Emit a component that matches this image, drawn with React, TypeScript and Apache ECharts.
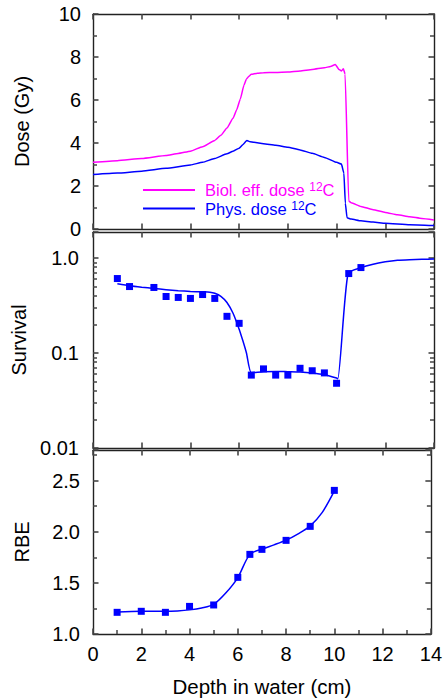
import React, { useEffect, useRef } from "react";
import * as echarts from "echarts";

// ---- Data ----
const BIO_NAME = "Biol. eff. dose 12C";
const PHYS_NAME = "Phys. dose 12C";

const BIO_X = [0, 1, 2, 3, 3.5, 4, 4.5, 5, 5.25, 5.5, 5.75, 5.9, 6.05, 6.2, 6.3, 6.4, 6.5, 6.75, 7, 7.5, 8, 8.5, 9, 9.5, 9.75, 9.95, 10.1, 10.2, 10.28, 10.35, 10.5, 10.6, 11, 11.5, 12, 12.5, 13, 13.5, 14];
const BIO_Y = [3.1, 3.18, 3.28, 3.42, 3.51, 3.62, 3.83, 4.12, 4.36, 4.7, 5.15, 5.55, 6.05, 6.7, 6.98, 7.1, 7.2, 7.25, 7.27, 7.28, 7.3, 7.35, 7.42, 7.5, 7.56, 7.65, 7.42, 7.35, 7.45, 7.2, 1.3, 1.22, 1.05, 0.9, 0.77, 0.66, 0.57, 0.49, 0.42];

const PHYS_X = [0, 1, 2, 3, 4, 4.5, 5, 5.5, 5.75, 6, 6.15, 6.32, 6.45, 6.6, 7, 7.5, 8, 8.5, 9, 9.5, 10, 10.2, 10.3, 10.36, 10.43, 10.6, 11, 11.5, 12, 13, 14];
const PHYS_Y = [2.53, 2.6, 2.69, 2.82, 2.98, 3.1, 3.28, 3.5, 3.62, 3.76, 3.92, 4.12, 4.06, 4.03, 3.97, 3.9, 3.8, 3.68, 3.52, 3.33, 3.1, 3.02, 2.6, 1.2, 0.52, 0.46, 0.38, 0.32, 0.27, 0.2, 0.16];

const SURV_PTS_X = [1, 1.5, 2.5, 3, 3.5, 4, 4.5, 5, 5.5, 6, 6.5, 7, 7.5, 8, 8.5, 9, 9.5, 10, 10.5, 11];
const SURV_PTS_Y = [0.607, 0.5, 0.489, 0.393, 0.384, 0.375, 0.412, 0.375, 0.243, 0.205, 0.0585, 0.068, 0.0585, 0.0585, 0.069, 0.065, 0.0617, 0.048, 0.685, 0.792];

const SURV_FIT_X = [1, 1.5, 2, 2.5, 3, 3.5, 4, 4.5, 4.8, 5, 5.25, 5.5, 5.75, 6.0, 6.15, 6.3, 6.5, 7, 7.5, 8, 8.5, 9, 9.5, 10, 10.05, 10.47, 11, 11.5, 12, 12.5, 13, 13.5, 14];
const SURV_FIT_Y = [0.535, 0.51, 0.492, 0.477, 0.464, 0.452, 0.444, 0.44, 0.436, 0.425, 0.395, 0.34, 0.262, 0.178, 0.135, 0.1, 0.062, 0.0635, 0.064, 0.0635, 0.063, 0.0615, 0.059, 0.0545, 0.0535, 0.686, 0.79, 0.86, 0.91, 0.945, 0.96, 0.968, 0.972];

const RBE_PTS_X = [1, 2, 3, 4, 5, 6, 6.5, 7, 8, 9, 10];
const RBE_PTS_Y = [1.212, 1.222, 1.212, 1.27, 1.284, 1.554, 1.779, 1.828, 1.916, 2.053, 2.405];

const RBE_FIT_X = [1, 2, 3, 3.5, 4, 4.5, 5, 5.5, 6, 6.5, 7, 7.5, 8, 8.5, 9, 9.5, 10];
const RBE_FIT_Y = [1.215, 1.222, 1.222, 1.226, 1.236, 1.255, 1.29, 1.4, 1.552, 1.779, 1.83, 1.872, 1.918, 1.98, 2.058, 2.19, 2.4];

const X_MIN = 0;
const X_MAX = 14;
const X_TICK = 2;
const DOSE_MIN = 0;
const DOSE_MAX = 10;
const DOSE_TICK = 2;
const SURV_MIN = 0.01;
const SURV_MAX = 1.875;
const RBE_MIN = 1.0;
const RBE_MAX = 2.8;
const RBE_TICK = 0.5;

const zip = (xs: number[], ys: number[]) => xs.map((x, i) => [x, ys[i]]);

const FONT = "Liberation Sans, Arial, Helvetica, sans-serif";
const MAGENTA = "#ff00ff";
const BLUE = "#0000ff";
const FRAME = "#222";

export default function App() {
  const ref = useRef<HTMLDivElement>(null);

  useEffect(() => {
    if (!ref.current) return;
    const chart = echarts.init(ref.current, null, { renderer: "svg" });

    const line = () => ({ show: true, onZero: false, lineStyle: { color: FRAME, width: 1.4 } });
    const tick = () => ({ show: true, inside: true, length: 5.5, lineStyle: { color: "#444", width: 1.6 } });
    const minor = (n: number) => ({ show: true, splitNumber: n, length: 4, lineStyle: { color: "#444", width: 1.5 } });
    const noLabel = { show: false };
    const lab = { color: "#000", fontSize: 20, fontFamily: FONT, margin: 12 };

    const xBase = (grid: number, pos: "bottom" | "top", extra: any = {}) => ({
      type: "value",
      gridIndex: grid,
      position: pos,
      min: X_MIN,
      max: X_MAX,
      interval: X_TICK,
      axisLine: line(),
      axisTick: tick(),
      splitLine: { show: false },
      axisLabel: noLabel,
      ...extra,
    });

    const yName = (name: string) => ({
      name,
      nameLocation: "middle",
      nameGap: 61,
      nameTextStyle: { color: "#000", fontSize: 20, fontFamily: FONT },
    });

    const survLabel = (v: number) => {
      const l = Math.log10(v);
      if (Math.abs(l - Math.round(l)) > 1e-6) return "";
      return Math.abs(v - 1) < 1e-9 ? "1.0" : String(v);
    };

    const option: any = {
      animation: false,
      backgroundColor: "#fff",
      grid: [
        { left: 93, right: 11, top: 14, height: 215 },
        { left: 93, right: 11, top: 232, height: 216 },
        { left: 93, right: 11, top: 450, height: 184 },
      ],
      xAxis: [
        xBase(0, "bottom"),
        xBase(0, "top"),
        xBase(1, "bottom"),
        xBase(1, "top"),
        xBase(2, "bottom", {
          minorTick: minor(2),
          axisLabel: { ...lab, margin: 10 },
          name: "Depth in water (cm)",
          nameLocation: "middle",
          nameGap: 42,
          nameTextStyle: { color: "#000", fontSize: 20.5, fontFamily: FONT },
        }),
        xBase(2, "top"),
      ],
      yAxis: [
        {
          type: "value", gridIndex: 0, position: "left", min: DOSE_MIN, max: DOSE_MAX, interval: DOSE_TICK,
          axisLine: line(), axisTick: tick(), minorTick: minor(2), splitLine: { show: false },
          axisLabel: lab, ...yName("Dose (Gy)"),
        },
        {
          type: "value", gridIndex: 0, position: "right", min: DOSE_MIN, max: DOSE_MAX, interval: DOSE_TICK,
          axisLine: line(), axisTick: tick(), minorTick: minor(2), splitLine: { show: false }, axisLabel: noLabel,
        },
        {
          type: "log", logBase: 10, gridIndex: 1, position: "left", min: SURV_MIN, max: SURV_MAX,
          axisLine: line(), axisTick: tick(), minorTick: minor(9), splitLine: { show: false },
          axisLabel: { ...lab, margin: 14, formatter: survLabel },
          ...yName("Survival"),
        },
        {
          type: "log", logBase: 10, gridIndex: 1, position: "right", min: SURV_MIN, max: SURV_MAX,
          axisLine: line(), axisTick: tick(), minorTick: minor(9), splitLine: { show: false }, axisLabel: noLabel,
        },
        {
          type: "value", gridIndex: 2, position: "left", min: RBE_MIN, max: RBE_MAX, interval: RBE_TICK,
          axisLine: line(), axisTick: tick(), minorTick: minor(2), splitLine: { show: false },
          axisLabel: {
            ...lab,
            margin: 13,
            formatter: (v: number) => (Math.abs(v / RBE_TICK - Math.round(v / RBE_TICK)) > 1e-6 ? "" : v.toFixed(1)),
          },
          ...yName("RBE"),
        },
        {
          type: "value", gridIndex: 2, position: "right", min: RBE_MIN, max: RBE_MAX, interval: RBE_TICK,
          axisLine: line(), axisTick: tick(), minorTick: minor(2), splitLine: { show: false }, axisLabel: noLabel,
        },
      ],
      legend: {
        orient: "vertical",
        left: 138,
        top: 176,
        icon: "rect",
        itemWidth: 52,
        itemHeight: 2,
        itemGap: 1,
        selectedMode: false,
        data: [
          { name: BIO_NAME, textStyle: { color: MAGENTA } },
          { name: PHYS_NAME, textStyle: { color: BLUE } },
        ],
        formatter: (n: string) =>
          n === BIO_NAME ? "{g|}{a|Biol. eff. dose }{s|12}{a|C}" : "{g|}{a|Phys. dose }{s|12}{a|C}",
        textStyle: {
          fontFamily: FONT,
          fontSize: 16.5,
          rich: {
            g: { width: 5 },
            a: { fontSize: 16.5, lineHeight: 18, fontFamily: FONT },
            s: { fontSize: 12, lineHeight: 18, verticalAlign: "top", fontFamily: FONT },
          },
        },
      },
      series: [
        {
          name: BIO_NAME, type: "line", xAxisIndex: 0, yAxisIndex: 0, data: zip(BIO_X, BIO_Y),
          showSymbol: false, symbol: "none", smooth: 0.15, smoothMonotone: "x",
          lineStyle: { color: MAGENTA, width: 1.5 }, itemStyle: { color: MAGENTA },
        },
        {
          name: PHYS_NAME, type: "line", xAxisIndex: 0, yAxisIndex: 0, data: zip(PHYS_X, PHYS_Y),
          showSymbol: false, symbol: "none", smooth: 0.15, smoothMonotone: "x",
          lineStyle: { color: BLUE, width: 1.5 }, itemStyle: { color: BLUE },
        },
        {
          name: "Survival fit", type: "line", xAxisIndex: 2, yAxisIndex: 2, data: zip(SURV_FIT_X, SURV_FIT_Y),
          showSymbol: false, symbol: "none", smooth: 0.2, lineStyle: { color: BLUE, width: 1.5 },
        },
        {
          name: "Survival", type: "scatter", xAxisIndex: 2, yAxisIndex: 2, data: zip(SURV_PTS_X, SURV_PTS_Y),
          symbol: "rect", symbolSize: 7, itemStyle: { color: BLUE, opacity: 1 },
        },
        {
          name: "RBE fit", type: "line", xAxisIndex: 4, yAxisIndex: 4, data: zip(RBE_FIT_X, RBE_FIT_Y),
          showSymbol: false, symbol: "none", smooth: 0.3, lineStyle: { color: BLUE, width: 1.5 },
        },
        {
          name: "RBE", type: "scatter", xAxisIndex: 4, yAxisIndex: 4, data: zip(RBE_PTS_X, RBE_PTS_Y),
          symbol: "rect", symbolSize: 7, itemStyle: { color: BLUE, opacity: 1 },
        },
      ],
    };

    chart.setOption(option);
    return () => chart.dispose();
  }, []);

  return (
    <div
      ref={ref}
      style={{ position: "fixed", left: 0, top: 0, width: 445, height: 699, background: "#fff" }}
    />
  );
}
